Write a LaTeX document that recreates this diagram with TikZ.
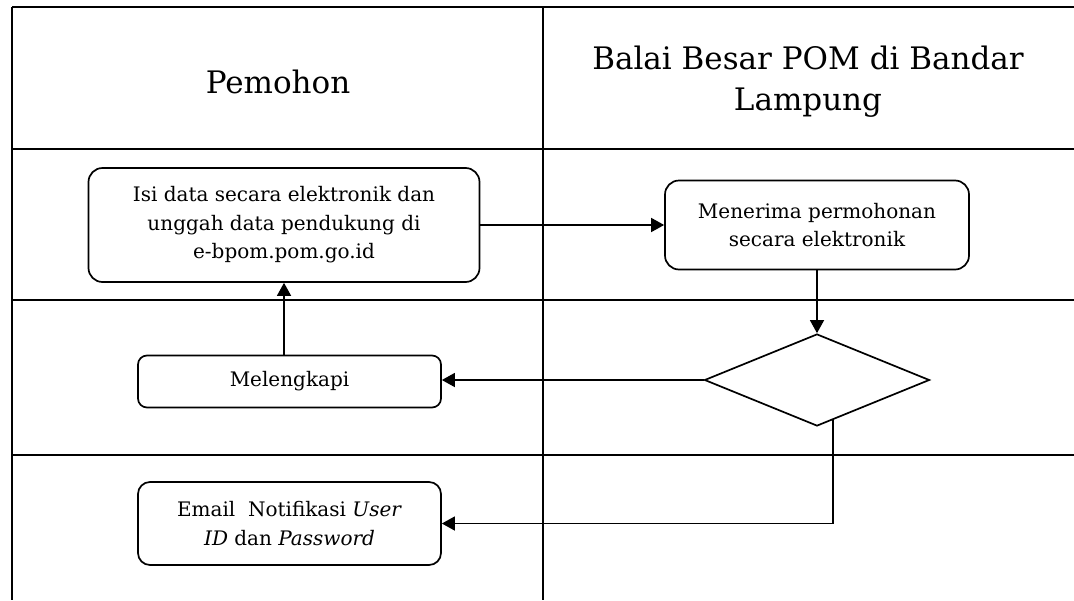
\documentclass[tikz,border=0pt]{standalone}
\usepackage{fontspec}
\setmainfont{DejaVu Serif}
\usetikzlibrary{shapes.geometric,arrows.meta}
\begin{document}
\begin{tikzpicture}[x=1pt,y=-1pt,
  hline/.style={line width=2.3pt},
  vline/.style={line width=1.7pt},
  proc/.style={draw,line width=1.7pt,rounded corners=14pt,align=center,
    font=\fontsize{20}{28.5}\selectfont,inner sep=0pt},
  head/.style={align=center,font=\fontsize{31}{41}\selectfont},
  flow/.style={line width=1.5pt,-{Triangle[length=13pt,width=14pt]}},
  flowline/.style={line width=1.5pt}]
\useasboundingbox (0,0) rectangle (1074,600);
% swimlane table
\draw[hline] (12,7) -- (1074,7);
\draw[hline] (12,149) -- (1074,149);
\draw[hline] (12,300) -- (1074,300);
\draw[hline] (12,455) -- (1074,455);
\draw[vline] (12,7) -- (12,600);
\draw[vline] (543,7) -- (543,600);
% headers
\node[head] (h1) at (278,82) {Pemohon};
\node[head] (h2) at (808,82) {Balai Besar POM di Bandar\\Lampung};
% nodes
\node[proc,minimum width=391pt,minimum height=114pt] (isi) at (284,225)
  {Isi data secara elektronik dan\\unggah data pendukung di\\e-bpom.pom.go.id};
\node[proc,minimum width=304pt,minimum height=89pt] (terima) at (817,225)
  {Menerima permohonan\\secara elektronik};
\node[draw,diamond,line width=1.7pt,minimum width=225pt,minimum height=92pt,inner sep=0pt] (dia) at (817,380) {};
\node[proc,rounded corners=9pt,minimum width=303pt,minimum height=52pt] (mel) at (289.5,381.5) {Melengkapi};
\node[proc,rounded corners=12pt,minimum width=303pt,minimum height=83pt] (email) at (289.5,523.5)
  {Email\ \ Notifikasi \textit{User}\\\textit{ID} dan \textit{Password}};
\coordinate (dout) at (833,419);
% connectors
\draw[flow] (isi.east) -- (terima.west);
\draw[flow] (terima.south) -- (dia.north);
\draw[flow] (dia.west) -- (dia.west -| mel.east);
\draw[flow] (mel.north -| isi.south) -- (isi.south);
\draw[flow] (dout) |- (email.east);
\end{tikzpicture}
\end{document}
